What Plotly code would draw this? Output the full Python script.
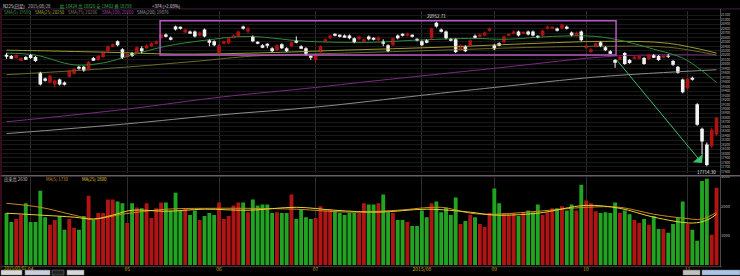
import plotly.graph_objects as go

# ---------------- data ----------------
opens = [20184, 20184, 20140, 20096, 20162, 20206, 20162, 19810, 19678, 19590,
         19546, 19656, 19590, 19722, 19788, 19942, 19942, 19876, 20140, 20096,
         20162, 20294, 20404, 20514, 20338, 20162, 20250, 20250, 20360, 20360,
         20404, 20470, 20580, 20668, 20602, 20844, 20822, 20712, 20734, 20734,
         20646, 20778, 20536, 20514, 20250, 20470, 20470, 20602, 20624, 20844,
         20734, 20624, 20492, 20426, 20437, 20360, 20316, 20448, 20360, 20404,
         20536, 20404, 20360, 20184, 20096, 20272, 20514, 20580, 20668, 20646,
         20646, 20646, 20580, 20558, 20514, 20624, 20580, 20536, 20514, 20426,
         20426, 20646, 20668, 20646, 20646, 20558, 20514, 20536, 20580, 20932,
         20778, 20734, 20558, 20558, 20316, 20404, 20426, 20624, 20624, 20646,
         20756, 20426, 20470, 20492, 20646, 20690, 20734, 20690, 20734, 20734,
         20624, 20646, 20800, 20800, 20800, 20800, 20822, 20712, 20646, 20734,
         20382, 20272, 20404, 20492, 20382, 20294, 20096, 20118, 20250, 20096,
         20140, 20140, 20140, 20118, 20206, 20184, 20162, 20184, 20074, 19942,
         19656, 19458, 19678, 19106, 18556, 18204, 18160, 18424]
highs = [20250, 20206, 20228, 20162, 20184, 20228, 20184, 19832, 19700, 19766,
         19656, 19678, 19612, 19876, 19920, 19964, 19964, 20074, 20162, 20206,
         20294, 20426, 20470, 20536, 20360, 20250, 20272, 20404, 20404, 20448,
         20492, 20536, 20690, 20690, 20624, 20866, 20844, 20800, 20756, 20756,
         20734, 20800, 20558, 20536, 20448, 20536, 20602, 20668, 20756, 20866,
         20844, 20646, 20514, 20448, 20470, 20382, 20448, 20470, 20382, 20514,
         20624, 20426, 20382, 20206, 20206, 20426, 20580, 20668, 20690, 20668,
         20668, 20668, 20602, 20646, 20580, 20646, 20602, 20624, 20558, 20448,
         20602, 20668, 20690, 20712, 20668, 20580, 20536, 20558, 20822, 20952.71,
         20800, 20756, 20580, 20580, 20448, 20426, 20558, 20668, 20690, 20734,
         20822, 20448, 20492, 20646, 20690, 20756, 20756, 20734, 20756, 20756,
         20646, 20778, 20866, 20844, 20822, 20910, 20866, 20734, 20734, 20756,
         20448, 20360, 20492, 20514, 20404, 20316, 20118, 20184, 20272, 20118,
         20184, 20206, 20162, 20228, 20228, 20206, 20206, 20228, 20096, 19964,
         19678, 19700, 19722, 19128, 18578, 18248, 18578, 18820]
lows = [20118, 20118, 20118, 20074, 20096, 20118, 20052, 19524, 19612, 19568,
        19480, 19524, 19524, 19700, 19766, 19876, 19832, 19854, 20074, 20074,
        20140, 20272, 20382, 20404, 20118, 20140, 20162, 20228, 20250, 20338,
        20382, 20448, 20558, 20602, 20536, 20756, 20778, 20690, 20690, 20602,
        20624, 20602, 20404, 20404, 20228, 20448, 20448, 20580, 20602, 20778,
        20690, 20492, 20448, 20360, 20360, 20272, 20294, 20338, 20272, 20382,
        20470, 20338, 20184, 20096, 20030, 20250, 20492, 20558, 20624, 20602,
        20602, 20558, 20470, 20536, 20492, 20536, 20536, 20514, 20404, 20272,
        20404, 20558, 20624, 20624, 20602, 20514, 20404, 20470, 20558, 20822,
        20712, 20558, 20514, 20250, 20294, 20272, 20404, 20580, 20602, 20624,
        20734, 20316, 20404, 20470, 20624, 20668, 20624, 20668, 20646, 20624,
        20580, 20624, 20778, 20778, 20734, 20778, 20778, 20624, 20624, 20514,
        20338, 20250, 20382, 20382, 20294, 20228, 19920, 20096, 19986, 20008,
        20118, 20118, 19986, 20096, 20140, 20074, 20140, 20140, 19964, 19788,
        19348, 19436, 19634, 18622, 17984, 17714.30, 18116, 18402]
closes = [20184, 20140, 20206, 20140, 20118, 20140, 20074, 19546, 19634, 19744,
          19634, 19546, 19557, 19854, 19898, 19898, 19854, 20052, 20096, 20184,
          20272, 20404, 20448, 20426, 20140, 20228, 20184, 20382, 20294, 20426,
          20470, 20514, 20668, 20624, 20558, 20778, 20800, 20778, 20701, 20624,
          20712, 20624, 20492, 20426, 20426, 20514, 20580, 20646, 20734, 20800,
          20800, 20514, 20470, 20382, 20415, 20294, 20426, 20360, 20294, 20492,
          20492, 20360, 20206, 20162, 20184, 20404, 20558, 20646, 20646, 20624,
          20613, 20580, 20492, 20624, 20558, 20558, 20558, 20602, 20470, 20294,
          20580, 20580, 20646, 20690, 20624, 20536, 20426, 20492, 20800, 20844,
          20734, 20580, 20536, 20272, 20426, 20294, 20536, 20613, 20668, 20712,
          20800, 20338, 20426, 20624, 20668, 20734, 20646, 20712, 20668, 20646,
          20602, 20756, 20844, 20822, 20756, 20888, 20811, 20646, 20712, 20536,
          20404, 20338, 20470, 20404, 20316, 20250, 20052, 20162, 20008, 20030,
          20162, 20184, 20008, 20206, 20162, 20096, 20184, 20173, 19986, 19810,
          19370, 19678, 19667, 18644, 18270, 17742, 18534, 18798]
volumes = [1770, 1470, 1570, 1700, 2100, 1470, 1470, 2530, 1630, 1370,
           1530, 1670, 1200, 1570, 1270, 1200, 1670, 2360, 1530, 1770,
           1770, 2230, 2230, 2160, 2100, 1430, 2100, 1960, 1930, 2100,
           1600, 1930, 2130, 2130, 1860, 2460, 1860, 1930, 1700, 1860,
           1530, 1670, 1770, 1700, 2130, 1570, 1670, 2030, 2130, 2130,
           1800, 2230, 2030, 2060, 2060, 1770, 1800, 1770, 1770, 2400,
           1570, 1900, 1630, 1570, 1600, 2000, 1900, 1900, 1860, 1770,
           1700, 1770, 1770, 1770, 2100, 2060, 2060, 2100, 2400, 1800,
           1770, 1530, 1530, 1470, 1330, 1330, 1860, 1630, 2100, 2160,
           1800, 1960, 1700, 2300, 1400, 1500, 1700, 1630, 1400, 1300,
           1770, 2600, 2100, 1770, 1730, 1770, 1670, 1770, 1860, 1800,
           2060, 1700, 1800, 1930, 1930, 2000, 1860, 2060, 1860, 2730,
           2200, 2100, 1830, 1770, 1800, 1770, 2130, 1770, 1860, 1730,
           1530, 1430, 1570, 1370, 1670, 1230, 1230, 1100, 1400, 1600,
           2160, 1400, 1200, 830, 2860, 2930, 1030, 2630]

# moving-average lines, sampled at bar positions
ma_green_x = [0, 6, 14, 20, 26, 33, 41, 50, 62, 76, 84, 97, 103, 113, 122, 128, 134, 140, 144, 147]
ma_green = [20250, 20206, 19986, 20030, 20206, 20404, 20536, 20624, 20514, 20492,
            20536, 20580, 20558, 20624, 20624, 20514, 20338, 20140, 19854, 19590]
ma_olive_x = [0, 20, 35, 51, 70, 90, 110, 125, 137, 147]
ma_olive = [20316, 20272, 20228, 20250, 20316, 20382, 20470, 20514, 20470, 20250]
ma_brown_x = [0, 20, 40, 51, 70, 90, 110, 125, 137, 147]
ma_brown = [19766, 19898, 20074, 20184, 20250, 20316, 20382, 20404, 20382, 20206]
ma_purple_x = [0, 25, 44, 64, 73, 102, 126, 147]
ma_purple = [18710, 18996, 19260, 19480, 19590, 19920, 20184, 20206]
ma_gray_x = [0, 25, 44, 64, 86, 101, 123, 147]
ma_gray = [18446, 18666, 18864, 19040, 19304, 19480, 19722, 19876]

vma_a_x = [0, 7, 14, 18, 24, 33, 41, 50, 60, 71, 81, 90, 96, 101, 110, 120, 127, 134, 140, 144, 147]
vma_a = [2100, 1965, 1700, 1565, 1730, 1900, 1930, 1930, 1900, 1800, 1865, 1965, 1765,
         1730, 1830, 1965, 1965, 1730, 1600, 1565, 1800]
vma_b_x = [0, 7, 14, 18, 22, 26, 33, 41, 50, 60, 68, 77, 87, 96, 101, 110, 120, 127, 134, 142, 145, 147]
vma_b = [1765, 1700, 1630, 1565, 1700, 1865, 1830, 1900, 1865, 1965, 1865, 1800, 1900,
         1800, 1700, 1765, 2030, 1930, 1630, 1430, 1530, 1730]

month_ticks = [5, 25, 44, 64, 86, 101, 120, 141]
month_labels = ["04", "05", "06", "07", "2015/08", "09", "10", "11"]

box_x = [31.8, 126.2]
box_y = [20206, 20976]
arrow_from = (126, 20140)
arrow_to = (144, 17786)
peak_label = "20952.71"
low_label = "17714.30"

# ---------------- figure ----------------
n = len(closes)
slots = list(range(n))
UP, DOWN = "#b01212", "#f2f2f2"
VUP, VDOWN = "#b01414", "#22a322"
is_up = [c > o for o, c in zip(opens, closes)]
vol_colors = [VUP if u else VDOWN for u in is_up]
MIN_BODY = 14  # so that doji bodies stay visible as a dash

FONT = "Noto Sans CJK JP, DejaVu Sans, sans-serif"
fig = go.Figure()

line_specs = [
    (ma_gray_x, ma_gray, "#8c8c8c"),
    (ma_purple_x, ma_purple, "#7a2a80"),
    (ma_brown_x, ma_brown, "#6e6a2a"),
    (ma_olive_x, ma_olive, "#9c9c30"),
    (ma_green_x, ma_green, "#2f8a3a"),
]
for xs, ys, col in line_specs:
    fig.add_trace(go.Scatter(x=xs, y=ys, mode="lines", line=dict(color=col, width=1, shape="spline"),
                             xaxis="x", yaxis="y", hoverinfo="skip"))

# wicks
for want_up, col in [(True, UP), (False, DOWN)]:
    wx, wy = [], []
    for i in slots:
        if is_up[i] == want_up:
            wx += [i, i, None]
            wy += [lows[i], highs[i], None]
    fig.add_trace(go.Scatter(x=wx, y=wy, mode="lines", line=dict(color=col, width=1),
                             xaxis="x", yaxis="y", hoverinfo="skip"))

# bodies
for want_up, col in [(True, UP), (False, DOWN)]:
    bx, bb, bh = [], [], []
    for i in slots:
        if is_up[i] == want_up:
            lo, hi = min(opens[i], closes[i]), max(opens[i], closes[i])
            h = max(hi - lo, MIN_BODY)
            mid = (lo + hi) / 2
            bx.append(i)
            bb.append(mid - h / 2)
            bh.append(h)
    fig.add_trace(go.Bar(x=bx, y=bh, base=bb, width=0.74, marker=dict(color=col, line=dict(width=0)),
                         xaxis="x", yaxis="y", hoverinfo="skip"))

fig.add_trace(go.Bar(x=slots, y=volumes, marker=dict(color=vol_colors, line=dict(width=0)),
                     width=0.8, xaxis="x2", yaxis="y2"))
fig.add_trace(go.Scatter(x=vma_a_x, y=vma_a, mode="lines", line=dict(color="#c88a20", width=1, shape="spline"),
                         xaxis="x2", yaxis="y2"))
fig.add_trace(go.Scatter(x=vma_b_x, y=vma_b, mode="lines", line=dict(color="#e8d030", width=1, shape="spline"),
                         xaxis="x2", yaxis="y2"))

W, H = 740, 276
def py(pix):
    return 1 - pix / H
def px(pix):
    return pix / W

xr = [-0.93, 147.72]
fig.update_layout(
    width=W, height=H, margin=dict(l=0, r=0, t=0, b=0),
    paper_bgcolor="#000000", plot_bgcolor="#000000", showlegend=False,
    font=dict(family=FONT, color="#cccccc", size=5),
    barmode="overlay",
    xaxis=dict(domain=[px(2), px(720)], range=xr, anchor="y", tickvals=month_ticks, showticklabels=False,
               showgrid=True, gridcolor="#2c2c2c", gridwidth=1, zeroline=False,
               showline=False, ticks=""),
    yaxis=dict(domain=[py(172), py(7)], range=[17566, 21196], side="right", dtick=100, tick0=0,
               showgrid=True, gridcolor="#191919", gridwidth=1, zeroline=False, ticks="",
               tickfont=dict(size=3.3, color="#bdbdbd"), tickformat="d"),
    xaxis2=dict(domain=[px(2), px(720)], range=xr, anchor="y2", tickvals=month_ticks, ticktext=month_labels,
                showgrid=True, gridcolor="#2c2c2c", zeroline=False, ticks="",
                tickfont=dict(size=5, color="#c8b400")),
    yaxis2=dict(domain=[py(266), py(176)], range=[0, 3000], side="right", tickvals=[1000, 2000, 3000],
                ticktext=["1000", "2000", "3000"], showgrid=False, zeroline=False, ticks="",
                tickfont=dict(size=4, color="#bdbdbd")),
)

shapes = [
    dict(type="rect", xref="x", yref="y", x0=box_x[0], x1=box_x[1], y0=box_y[0], y1=box_y[1],
         line=dict(color="#b45cc0", width=1.5)),
    dict(type="line", xref="paper", yref="paper", x0=0, x1=1, y0=py(5), y1=py(5),
         line=dict(color="#3c2440", width=1)),
    dict(type="line", xref="paper", yref="paper", x0=0, x1=1, y0=py(175), y1=py(175),
         line=dict(color="#6a5a6a", width=1.5)),
    dict(type="line", xref="paper", yref="paper", x0=0, x1=px(722), y0=py(267.5), y1=py(267.5),
         line=dict(color="#4a3a40", width=1)),
    dict(type="line", xref="paper", yref="paper", x0=px(1), x1=px(1), y0=py(270), y1=py(5),
         line=dict(color="#4a1020", width=1.5)),
    dict(type="line", xref="paper", yref="paper", x0=px(720.5), x1=px(720.5), y0=py(268), y1=py(5),
         line=dict(color="#4a4a4a", width=1)),
]
for a, b, col in [(1, 22, "#d8d8d8"), (25, 50, "#c8d0e0"), (52, 64, "#222222"), (67, 84, "#d8d8d8"),
                  (683, 700, "#c0c0c0"), (702, 740, "#a8c4e8")]:
    shapes.append(dict(type="rect", xref="paper", yref="paper", x0=px(a), x1=px(b), y0=py(276), y1=py(271),
                       line=dict(color="#888888", width=0.5), fillcolor=col))
fig.update_layout(shapes=shapes)

ann = [
    dict(x=arrow_to[0], y=arrow_to[1], ax=arrow_from[0], ay=arrow_from[1], xref="x", yref="y",
         axref="x", ayref="y", showarrow=True, arrowhead=1, arrowsize=2.2, arrowwidth=1,
         arrowcolor="#3cbf6a", text=""),
    dict(x=89, y=highs[89], xref="x", yref="y", text=peak_label, showarrow=False, yanchor="bottom",
         yshift=1, font=dict(size=4.5, color="#e0e0e0")),
    dict(x=145, y=lows[145], xref="x", yref="y", text=low_label, showarrow=False, yanchor="top",
         yshift=-1, font=dict(size=4.5, color="#e0e0e0")),
]
def txt(x, y, s, col, size=4.3):
    ann.append(dict(x=px(x), y=py(y), xref="paper", yref="paper", text=s, showarrow=False,
                    xanchor="left", yanchor="middle", font=dict(size=size, color=col)))

txt(1, 2.5, "N225(日足)", "#e0e0e0")
txt(26, 2.5, "2015/08/28", "#c0c0c0")
txt(58, 2.5, "始 18424 高 18820 安 18402 終 18798", "#3cb04a")
txt(150, 2.5, "+374 (+2.03%)", "#e0e0e0")
txt(2, 8, "SMA(5) 19590", "#3c9c3c")
txt(33, 8, "SMA(25) 20250", "#b0b040")
txt(66, 8, "SMA(75) 20206", "#8a7a60")
txt(100, 8, "SMA(100) 20206", "#b040b0")
txt(135, 8, "SMA(200) 19876", "#a0a0a0")
txt(2, 178.5, "出来高 2630", "#c0c0c0")
txt(44, 178.5, "MA(5) 1730", "#d08a20")
txt(80, 178.5, "MA(25) 1800", "#e8d030")
txt(2, 268.5, "2015/03/02", "#c8b400", 4.3)
fig.update_layout(annotations=ann)

fig.write_html("out.html")
